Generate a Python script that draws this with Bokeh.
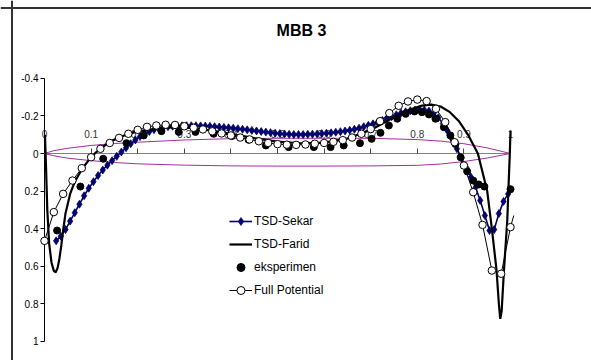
from bokeh.plotting import figure
from bokeh.models import Range1d, LinearAxis, FixedTicker, Legend, LegendItem, Span, Label
from bokeh.embed import file_html
from bokeh.resources import INLINE

# ---------------- data ----------------
title_text = "MBB 3"

x_ticks = [0, 0.1, 0.2, 0.3, 0.4, 0.5, 0.6, 0.7, 0.8, 0.9, 1]
x_tick_labels = ["0", "0.1", "0.2", "0.3", "0.4", "0.5", "0.6", "0.7", "0.8", "0.9", "1"]
y_ticks = [-0.4, -0.2, 0, 0.2, 0.4, 0.6, 0.8, 1]
y_tick_labels = ["-0.4", "-0.2", "0", "0.2", "0.4", "0.6", "0.8", "1"]

sekar_x = [0.025, 0.035, 0.045, 0.055, 0.065, 0.075, 0.085, 0.095, 0.105, 0.115,
           0.125, 0.135, 0.145, 0.155, 0.165, 0.175, 0.185, 0.195, 0.205, 0.215,
           0.225, 0.235, 0.245, 0.255, 0.265, 0.275, 0.285, 0.295, 0.305, 0.315,
           0.325, 0.335, 0.345, 0.355, 0.365, 0.375, 0.385, 0.395, 0.405, 0.415,
           0.425, 0.435, 0.445, 0.455, 0.465, 0.475, 0.485, 0.495, 0.505, 0.515,
           0.525, 0.535, 0.545, 0.555, 0.565, 0.575, 0.585, 0.595, 0.605, 0.615,
           0.625, 0.635, 0.645, 0.655, 0.665, 0.675, 0.685, 0.695, 0.705, 0.715,
           0.725, 0.735, 0.745, 0.755, 0.765, 0.775, 0.785, 0.795, 0.805, 0.815,
           0.825, 0.835, 0.845, 0.855, 0.865, 0.875, 0.885, 0.895, 0.905, 0.915,
           0.925, 0.935, 0.945, 0.955, 0.965, 0.975, 0.985, 0.995]
sekar_y = [0.465, 0.44, 0.405, 0.36, 0.315, 0.27, 0.225, 0.185, 0.15, 0.117,
           0.088, 0.062, 0.038, 0.015, -0.008, -0.03, -0.052, -0.072, -0.09, -0.105,
           -0.117, -0.127, -0.134, -0.139, -0.143, -0.145, -0.147, -0.148, -0.148, -0.148,
           -0.148, -0.147, -0.146, -0.145, -0.143, -0.141, -0.139, -0.137, -0.135, -0.132,
           -0.129, -0.126, -0.123, -0.12, -0.117, -0.114, -0.111, -0.108, -0.106, -0.104,
           -0.102, -0.101, -0.101, -0.101, -0.102, -0.103, -0.104, -0.106, -0.108, -0.11,
           -0.113, -0.116, -0.12, -0.124, -0.129, -0.135, -0.142, -0.15, -0.158, -0.167,
           -0.176, -0.186, -0.196, -0.206, -0.215, -0.222, -0.228, -0.232, -0.234, -0.232,
           -0.226, -0.212, -0.19, -0.16, -0.12, -0.075, -0.025, 0.025, 0.075, 0.125,
           0.18, 0.25, 0.33, 0.41, 0.405, 0.32, 0.255, 0.215]

farid_x = [0.001, 0.003, 0.006, 0.01, 0.015, 0.02, 0.024, 0.028, 0.032, 0.036,
           0.04, 0.045, 0.055, 0.065, 0.08, 0.095, 0.11, 0.13, 0.15, 0.175,
           0.2, 0.25, 0.28, 0.32, 0.36, 0.4, 0.45, 0.5, 0.55, 0.6,
           0.65, 0.7, 0.74, 0.78, 0.81, 0.83, 0.85, 0.87, 0.89, 0.91,
           0.93, 0.94, 0.95, 0.96, 0.97, 0.975, 0.978, 0.981, 0.986, 0.993,
           0.9985, 1.0]
farid_y = [-0.1, 0.05, 0.3, 0.48, 0.58, 0.625, 0.632, 0.61, 0.56, 0.49,
           0.41, 0.32, 0.215, 0.15, 0.085, 0.035, -0.005, -0.045, -0.075, -0.1,
           -0.118, -0.135, -0.14, -0.135, -0.122, -0.105, -0.082, -0.063, -0.054, -0.058,
           -0.08, -0.125, -0.18, -0.23, -0.255, -0.26, -0.25, -0.22, -0.17, -0.095,
           0.0, 0.1, 0.2, 0.4, 0.62, 0.8, 0.88, 0.84, 0.62, 0.36,
           0.0, -0.12]

eksp_x = [0.027, 0.077, 0.126, 0.176, 0.213, 0.251, 0.288, 0.324, 0.363, 0.402,
          0.438, 0.475, 0.524, 0.578, 0.614, 0.642, 0.677, 0.702, 0.721, 0.739,
          0.757, 0.775, 0.794, 0.81, 0.825, 0.839, 0.857, 0.871, 0.882, 0.893,
          0.907, 0.92, 0.932, 0.944, 1.0]
eksp_y = [0.41, 0.176, 0.028, -0.055, -0.096, -0.119, -0.115, -0.115, -0.105, -0.093,
          -0.073, -0.043, -0.034, -0.034, -0.034, -0.043, -0.055, -0.078, -0.11, -0.149,
          -0.185, -0.211, -0.224, -0.22, -0.208, -0.185, -0.14, -0.096, -0.05, 0.02,
          0.095, 0.144, 0.165, 0.176, 0.19]

fp_x = [0.0, 0.02, 0.04, 0.06, 0.08, 0.10, 0.12, 0.14, 0.16, 0.18,
        0.20, 0.22, 0.24, 0.26, 0.28, 0.30, 0.32, 0.34, 0.36, 0.38,
        0.40, 0.42, 0.44, 0.46, 0.48, 0.50, 0.52, 0.54, 0.56, 0.58,
        0.60, 0.62, 0.64, 0.66, 0.68, 0.70, 0.72, 0.74, 0.76, 0.78,
        0.80, 0.82, 0.84, 0.86, 0.88, 0.90, 0.92, 0.94, 0.96, 0.98,
        1.0, 1.007]
fp_y = [0.465, 0.312, 0.215, 0.144, 0.078, 0.02, -0.025, -0.056, -0.083, -0.105,
        -0.126, -0.142, -0.149, -0.153, -0.152, -0.145, -0.137, -0.128, -0.118, -0.107,
        -0.096, -0.085, -0.075, -0.065, -0.056, -0.05, -0.047, -0.046, -0.048, -0.052,
        -0.056, -0.062, -0.071, -0.085, -0.105, -0.13, -0.172, -0.215, -0.254, -0.277,
        -0.287, -0.279, -0.238, -0.167, -0.06, 0.064, 0.206, 0.38, 0.623, 0.64,
        0.392, 0.33]

af_x = [0.0, 0.02, 0.05, 0.1, 0.15, 0.2, 0.3, 0.4, 0.5, 0.6, 0.7, 0.8, 0.85, 0.9, 0.95, 1.0]
af_upper = [0.0, -0.015, -0.028, -0.043, -0.053, -0.06, -0.072, -0.079, -0.081, -0.081,
            -0.081, -0.074, -0.066, -0.052, -0.03, 0.0]
af_lower = [0.0, 0.012, 0.025, 0.038, 0.048, 0.055, 0.062, 0.066, 0.067, 0.067,
            0.066, 0.063, 0.056, 0.043, 0.024, 0.0]

# ---------------- layout ----------------
W, H = 591, 360
X0_PX, PX_PER_X = 44, 466.0      # pixel of x=0 inside the figure, pixels per unit
Y0_PX, PX_PER_Y = 153, 187.86    # pixel of y=0 inside the figure, pixels per unit
FONT = "Liberation Sans"

p = figure(width=W, height=H, output_backend="svg", toolbar_location=None,
           x_range=Range1d(-X0_PX / PX_PER_X, (W - X0_PX) / PX_PER_X),
           y_range=Range1d((H - Y0_PX) / PX_PER_Y, -Y0_PX / PX_PER_Y),
           x_axis_location=None, y_axis_location=None, min_border=0)
p.outline_line_color = None
p.grid.visible = False
p.background_fill_color = "white"
p.border_fill_color = "white"

# outer chart border (top and left visible)
p.add_layout(Span(location=(7.5 - Y0_PX) / PX_PER_Y, dimension="width",
                  line_color="#333333", line_width=2))
p.add_layout(Span(location=(11.5 - X0_PX) / PX_PER_X, dimension="height",
                  line_color="#333333", line_width=2))

# y axis crossing at x = 0
yax = LinearAxis(fixed_location=0, bounds=(-0.4, 1.0),
                 ticker=FixedTicker(ticks=y_ticks),
                 major_label_overrides=dict(zip(y_ticks, y_tick_labels)))
yax.axis_line_color = "black"
yax.major_tick_line_color = "black"
yax.major_tick_out = 4
yax.major_tick_in = 0
yax.minor_tick_out = 0
yax.minor_tick_in = 0
yax.major_label_standoff = 2
yax.major_label_text_font = FONT
yax.major_label_text_font_size = "10px"
yax.major_label_text_color = "black"
yax.level = "underlay"
p.add_layout(yax, "left")

# x axis crossing at y = 0, labels above the line
xax = LinearAxis(fixed_location=0, bounds=(0, 1),
                 ticker=FixedTicker(ticks=x_ticks),
                 major_label_overrides=dict(zip(x_ticks, x_tick_labels)))
xax.axis_line_color = "#808080"
xax.major_tick_line_color = "#444444"
xax.major_tick_out = 5
xax.major_tick_in = 0
xax.minor_tick_out = 0
xax.minor_tick_in = 0
xax.major_label_standoff = 11
xax.major_label_text_font = FONT
xax.major_label_text_font_size = "10px"
xax.major_label_text_color = "#333333"
xax.level = "underlay"
p.add_layout(xax, "above")

# airfoil contour
AF_COLOR = "#A030A0"
p.line(af_x, af_upper, line_color=AF_COLOR, line_width=1)
p.line(af_x, af_lower, line_color=AF_COLOR, line_width=1)

# series
sek_l = p.line(sekar_x, sekar_y, line_color="#000060", line_width=1.6)
sek_m = p.scatter(sekar_x, sekar_y, marker="diamond", size=8,
                  fill_color="#000080", line_color="#000040", line_width=0.7)
far_l = p.line(farid_x, farid_y, line_color="black", line_width=2.2)
eks_m = p.scatter(eksp_x, eksp_y, marker="circle", size=7,
                  fill_color="black", line_color="black")
fp_l = p.line(fp_x, fp_y, line_color="black", line_width=1)
fp_m = p.scatter(fp_x[:-1], fp_y[:-1], marker="circle", size=7.5,
                 fill_color="white", line_color="black", line_width=1)

legend = Legend(items=[
    LegendItem(label="TSD-Sekar", renderers=[sek_l, sek_m]),
    LegendItem(label="TSD-Farid", renderers=[far_l]),
    LegendItem(label="eksperimen", renderers=[eks_m]),
    LegendItem(label="Full Potential", renderers=[fp_l, fp_m]),
], location=(229, 60), orientation="vertical", glyph_width=23, glyph_height=20,
    label_height=20, spacing=3, padding=0, margin=0, label_standoff=2,
    border_line_color=None, background_fill_alpha=0,
    label_text_font=FONT, label_text_font_size="12px", label_text_color="black")
p.add_layout(legend)

p.add_layout(Label(x=(301 - X0_PX) / PX_PER_X, y=(30 - Y0_PX) / PX_PER_Y,
                   text=title_text, text_align="center", text_baseline="middle",
                   text_font=FONT, text_font_style="bold", text_font_size="16px",
                   text_color="black"))

open("out.html", "w").write(file_html(p, INLINE))
